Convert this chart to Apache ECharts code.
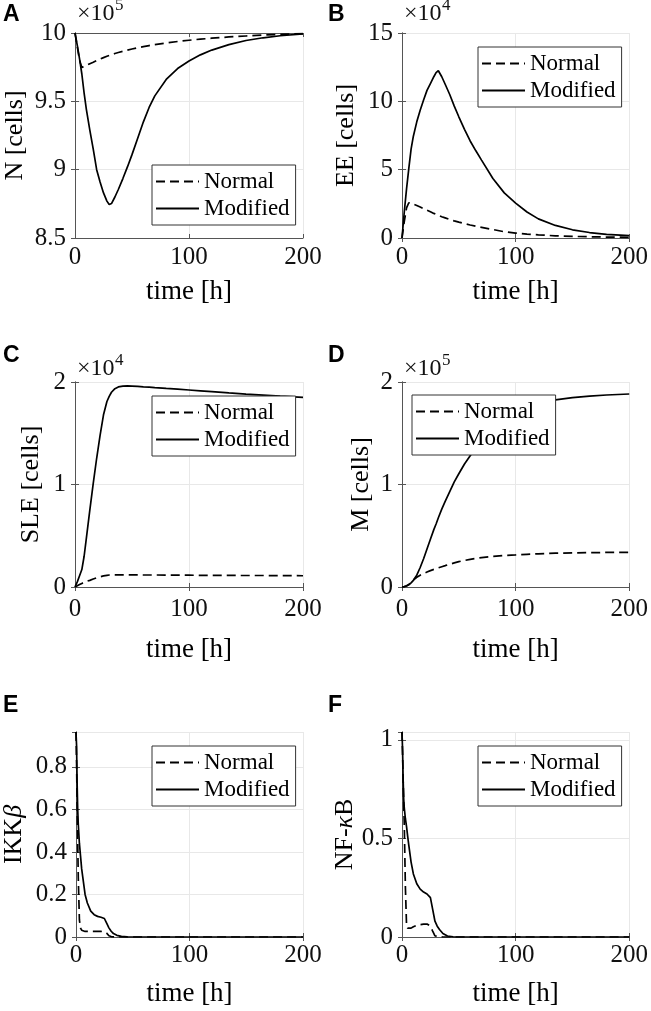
<!DOCTYPE html>
<html><head><meta charset="utf-8">
<script src="https://cdn.jsdelivr.net/npm/echarts@6/dist/echarts.min.js"></script>
<style>html,body{margin:0;padding:0;background:#fff}#c{width:651px;height:1011px}</style>
</head><body><div id="c"></div>
<script>
// ---- data (time in hours) ----
const tCells = [0, 2, 4, 6, 8, 10, 13, 16, 19, 22, 25, 28, 30, 32, 35, 38, 42, 46, 50, 55, 60, 65, 70, 80, 90, 100, 110, 120, 135, 150, 165, 180, 200];
const tSignal = [0, 0.5, 1, 1.5, 2, 3, 4, 5, 6, 8, 10, 13, 16, 19, 22, 25, 27, 29, 31, 33, 36, 40, 45, 50, 60, 80, 100, 150, 200];

// N [cells] in units of 1e5
const nNormal = [10.0, 9.90, 9.80, 9.748, 9.755, 9.763, 9.775, 9.786, 9.798, 9.809, 9.82, 9.83, 9.836, 9.842, 9.85, 9.857, 9.866, 9.875, 9.883, 9.892, 9.9, 9.908, 9.915, 9.927, 9.938, 9.947, 9.955, 9.962, 9.971, 9.978, 9.985, 9.99, 9.995];
const nModified = [10.0, 9.91, 9.81, 9.70, 9.56, 9.44, 9.29, 9.15, 9.0, 8.91, 8.83, 8.77, 8.745, 8.752, 8.80, 8.855, 8.935, 9.02, 9.11, 9.23, 9.35, 9.455, 9.54, 9.66, 9.74, 9.795, 9.84, 9.875, 9.915, 9.945, 9.965, 9.98, 9.993];
// EE [cells] in units of 1e4
const eeNormal = [0, 1.2, 2.2, 2.58, 2.56, 2.48, 2.38, 2.27, 2.15, 2.03, 1.92, 1.8, 1.73, 1.66, 1.56, 1.47, 1.35, 1.25, 1.16, 1.05, 0.95, 0.86, 0.78, 0.62, 0.46, 0.36, 0.29, 0.23, 0.16, 0.12, 0.09, 0.07, 0.05];
const eeModified = [0, 1.9, 3.6, 5.1, 6.5, 7.45, 8.5, 9.35, 10.1, 10.8, 11.3, 11.8, 12.1, 12.24, 11.8, 11.25, 10.5, 9.65, 8.87, 7.95, 7.1, 6.38, 5.7, 4.35, 3.3, 2.55, 1.9, 1.4, 0.92, 0.6, 0.4, 0.27, 0.17];
// SLE [cells] in units of 1e4
const sleNormal = [0, 0.012, 0.024, 0.035, 0.045, 0.055, 0.065, 0.078, 0.09, 0.1, 0.108, 0.114, 0.117, 0.118, 0.118, 0.118, 0.118, 0.118, 0.118, 0.118, 0.117, 0.117, 0.117, 0.116, 0.116, 0.115, 0.114, 0.114, 0.113, 0.112, 0.112, 0.111, 0.11];
const sleModified = [0, 0.05, 0.11, 0.17, 0.3, 0.48, 0.75, 1.01, 1.256, 1.48, 1.68, 1.81, 1.86, 1.9, 1.935, 1.952, 1.96, 1.962, 1.96, 1.957, 1.953, 1.95, 1.945, 1.937, 1.93, 1.922, 1.914, 1.906, 1.893, 1.882, 1.872, 1.862, 1.85];
// M [cells] in units of 1e5
const mNormal = [0, 0.004, 0.012, 0.025, 0.042, 0.068, 0.095, 0.115, 0.132, 0.146, 0.16, 0.172, 0.18, 0.187, 0.198, 0.208, 0.222, 0.235, 0.247, 0.259, 0.27, 0.279, 0.287, 0.299, 0.308, 0.313, 0.319, 0.324, 0.33, 0.333, 0.335, 0.337, 0.338];
const mModified = [0, 0.002, 0.01, 0.022, 0.04, 0.065, 0.115, 0.19, 0.275, 0.37, 0.465, 0.56, 0.615, 0.675, 0.76, 0.835, 0.93, 1.025, 1.105, 1.2, 1.28, 1.36, 1.43, 1.55, 1.64, 1.7, 1.75, 1.8, 1.825, 1.848, 1.863, 1.873, 1.883];
// IKKbeta
const ikkNormal = [0.964, 0.82, 0.62, 0.45, 0.28, 0.08, 0.042, 0.032, 0.028, 0.026, 0.026, 0.026, 0.026, 0.026, 0.026, 0.025, 0.018, 0.006, 0.002, 0.001, 0, 0, 0, 0, 0, 0, 0, 0, 0];
const ikkModified = [0.964, 0.9, 0.72, 0.6, 0.53, 0.44, 0.38, 0.32, 0.28, 0.2, 0.16, 0.122, 0.105, 0.097, 0.093, 0.087, 0.065, 0.043, 0.027, 0.016, 0.008, 0.003, 0.001, 0, 0, 0, 0, 0, 0];
// NF-kappaB
const nfkbNormal = [1.04, 0.93, 0.8, 0.68, 0.57, 0.25, 0.06, 0.045, 0.042, 0.045, 0.052, 0.059, 0.063, 0.065, 0.066, 0.055, 0.03, 0.006, 0.002, 0.001, 0, 0, 0, 0, 0, 0, 0, 0, 0];
const nfkbModified = [1.04, 0.95, 0.8, 0.7, 0.655, 0.6, 0.56, 0.51, 0.465, 0.38, 0.32, 0.27, 0.243, 0.228, 0.218, 0.2, 0.14, 0.08, 0.055, 0.038, 0.018, 0.005, 0.001, 0, 0, 0, 0, 0, 0];

const panelLabels = ['A', 'B', 'C', 'D', 'E', 'F'];
const yNames = ['N [cells]', 'EE [cells]', 'SLE [cells]', 'M [cells]', 'IKK{i|β}', 'NF-{i|κ}B'];
const exponents = ['5', '4', '4', '5', null, null];
const yRanges = [[8.5, 10, 0.5], [0, 15, 5], [0, 2, 1], [0, 2, 1], [0, 0.964, 0.2], [0, 1.04, 0.5]];
const xRange = [0, 200, 100];
const xName = 'time [h]';
const seriesNames = ['Normal', 'Modified'];
const panelData = [
  [tCells, nNormal, nModified], [tCells, eeNormal, eeModified],
  [tCells, sleNormal, sleModified], [tCells, mNormal, mModified],
  [tSignal, ikkNormal, ikkModified], [tSignal, nfkbNormal, nfkbModified]
];

// ---- layout ----
const layout = [
  {grid: [75, 33, 228, 205], legend: [152, 165], yGap: 47, xMargin: 7, xGap: 40, letter: [3, 15], exp: [77, 13.5]},
  {grid: [402, 33, 229, 205], legend: [478, 47], yGap: 43, xMargin: 7, xGap: 40, letter: [328, 15], exp: [404, 13.5]},
  {grid: [75, 382, 228, 205], legend: [152, 396], yGap: 31, xMargin: 10, xGap: 49, letter: [3, 356], exp: [77, 369]},
  {grid: [402, 382, 229, 205], legend: [412, 395], yGap: 28, xMargin: 10, xGap: 49, letter: [328, 356], exp: [404, 369]},
  {grid: [75, 732, 228, 205], legend: [152, 746], yGap: 49, xMargin: 6, xGap: 43, letter: [3, 705.5], exp: null},
  {grid: [402, 732, 229, 205], legend: [478, 746], yGap: 44, xMargin: 6, xGap: 43, letter: [328, 705.5], exp: null}
];

const SERIF = "'Liberation Serif', 'Times New Roman', serif";
const FRAME = '#555';
const GRIDC = '#e8e8e8';

const grids = [], xAxes = [], yAxes = [], series = [], legends = [], graphics = [];
layout.forEach((L, i) => {
  grids.push({left: L.grid[0], top: L.grid[1], width: L.grid[2], height: L.grid[3], containLabel: false});
});
layout.forEach((L, i) => {
  xAxes.push({
    type: 'value', gridIndex: i, min: xRange[0], max: xRange[1], interval: xRange[2],
    name: xName, nameLocation: 'middle', nameGap: L.xGap,
    nameTextStyle: {fontFamily: SERIF, fontSize: 27, color: '#000'},
    axisLine: {show: true, lineStyle: {color: FRAME, width: 1}},
    axisTick: {show: true, inside: true, length: 4, lineStyle: {color: FRAME}},
    axisLabel: {margin: L.xMargin, fontFamily: SERIF, fontSize: 25, color: '#111'},
    splitLine: {show: true, lineStyle: {color: GRIDC, width: 1}}
  });
  const r = yRanges[i];
  yAxes.push({
    type: 'value', gridIndex: i, min: r[0], max: r[1], interval: r[2],
    name: yNames[i], nameLocation: 'middle', nameRotate: 90, nameGap: L.yGap,
    nameTextStyle: {fontFamily: SERIF, fontSize: 26, color: '#000', rich: {i: {fontFamily: SERIF, fontSize: 26, fontStyle: 'italic', color: '#000'}}},
    axisLine: {show: true, lineStyle: {color: FRAME, width: 1}},
    axisTick: {show: true, inside: true, length: 4, lineStyle: {color: FRAME}},
    axisLabel: {margin: 9, fontFamily: SERIF, fontSize: 25, color: '#111', showMaxLabel: (i < 4)},
    splitLine: {show: true, lineStyle: {color: GRIDC, width: 1}}
  });
});
layout.forEach((L, i) => {
  xAxes.push({
    type: 'value', gridIndex: i, position: 'top', min: xRange[0], max: xRange[1], interval: xRange[2],
    axisLine: {show: true, lineStyle: {color: FRAME, width: 1}},
    axisTick: {show: true, inside: true, length: 4, lineStyle: {color: FRAME}},
    axisLabel: {show: false}, splitLine: {show: false}
  });
  const r = yRanges[i];
  yAxes.push({
    type: 'value', gridIndex: i, position: 'right', min: r[0], max: r[1], interval: r[2],
    axisLine: {show: true, lineStyle: {color: FRAME, width: 1}},
    axisTick: {show: true, inside: true, length: 4, lineStyle: {color: FRAME}},
    axisLabel: {show: false}, splitLine: {show: false}
  });
});
panelData.forEach((d, i) => {
  const t = d[0];
  [1, 2].forEach(k => {
    series.push({
      type: 'line', name: seriesNames[k - 1], xAxisIndex: i, yAxisIndex: i,
      data: t.map((x, j) => [x, d[k][j]]),
      symbol: 'none', smooth: false, animation: false,
      lineStyle: {color: '#000', width: 1.7, type: k === 1 ? [9, 5] : 'solid'},
      itemStyle: {color: '#000'}
    });
  });
});
layout.forEach((L, i) => {
  legends.push({
    left: L.legend[0], top: L.legend[1], orient: 'vertical', data: seriesNames,
    itemWidth: 43, itemHeight: 14, itemGap: 4, padding: [5, 6, 5, 3],
    borderColor: '#333', borderWidth: 1, backgroundColor: '#fff', borderRadius: 0,
    selectedMode: false,
    itemStyle: {color: 'rgba(0,0,0,0)', borderColor: 'rgba(0,0,0,0)', borderWidth: 0, opacity: 0},
    textStyle: {fontFamily: SERIF, fontSize: 23, color: '#000'}
  });
  graphics.push({type: 'text', x: L.letter[0], y: L.letter[1], style: {text: panelLabels[i], fontFamily: "'Liberation Sans', Arial, sans-serif", fontWeight: 'bold', fontSize: 23, fill: '#000', verticalAlign: 'middle'}});
  if (exponents[i]) {
    graphics.push({type: 'text', x: L.exp[0], y: L.exp[1], style: {text: '×10', fontFamily: SERIF, fontSize: 24, fill: '#111', verticalAlign: 'middle'}});
    graphics.push({type: 'text', x: L.exp[0] + 38, y: L.exp[1] - 8, style: {text: exponents[i], fontFamily: SERIF, fontSize: 17, fill: '#111', verticalAlign: 'middle'}});
  }
});

const chart = echarts.init(document.getElementById('c'), null, {renderer: 'canvas'});
chart.setOption({
  animation: false, backgroundColor: '#fff',
  grid: grids, xAxis: xAxes, yAxis: yAxes, series: series, legend: legends, graphic: graphics
});
</script></body></html>
